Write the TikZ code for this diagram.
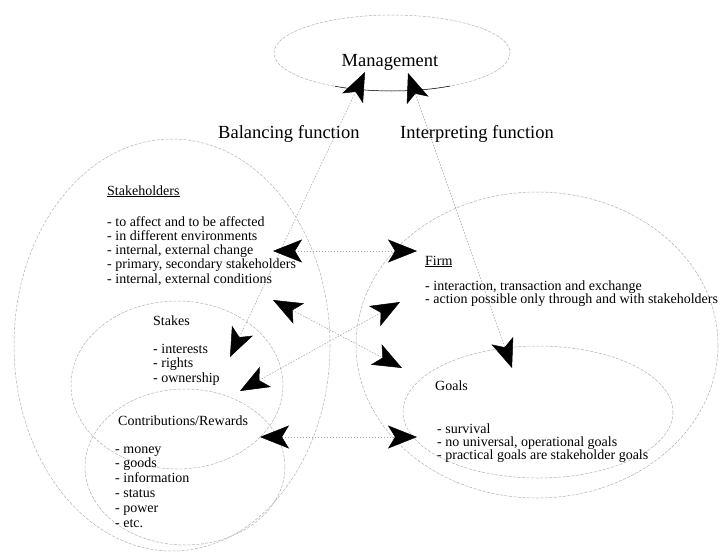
\documentclass[tikz,border=0pt]{standalone}
\usepackage{fontspec}
\setmainfont{Liberation Serif}
\usetikzlibrary{arrows.meta}
\begin{document}
\begin{tikzpicture}[x=1pt,y=-1pt,
  ring/.style={draw=gray!60, line width=0.5pt, dash pattern=on 3pt off 1.5pt},
  link/.style={draw=gray!75, line width=0.5pt, dash pattern=on 1.5pt off 1.5pt,
     {Stealth[black,length=29pt,width=23pt,inset=7pt]}-{Stealth[black,length=29pt,width=23pt,inset=7pt]}},
  big/.style={font=\fontsize{18.5}{20}\selectfont, inner sep=0pt},
  body/.style={font=\fontsize{14}{14.3}\selectfont, inner sep=0pt, anchor=base west, align=left},
]
\path[use as bounding box, fill=white] (0,0) rectangle (727,554);

% ---- circles of the model ----
\draw[ring] (392,53) ellipse [x radius=118, y radius=38];
\begin{scope}
  \clip (335,75) rectangle (450,100);
  \draw[black, line width=0.5pt] (392,53) ellipse [x radius=118, y radius=38];
\end{scope}
\draw[ring] (172,345) ellipse [x radius=158, y radius=206];
\draw[ring] (177,385) ellipse [x radius=106, y radius=84];
\draw[ring] (185,467) ellipse [x radius=100, y radius=78];
\draw[ring] (537,345) ellipse [x radius=181, y radius=153];
\draw[ring] (538,412) ellipse [x radius=135, y radius=66];

% ---- texts (list nodes are placed by the baseline of their last line) ----
\node[big, anchor=base] (mgmt) at (390,66.5) {Management};
\node[big, anchor=base west] (bal) at (218,138) {Balancing function};
\node[big, anchor=base west] (interp) at (400,138) {Interpreting function};

\node[body] (sh) at (107,195) {\underline{Stakeholders}};
\node[body] (shl) at (107,283.2) {- to affect and to be affected\\
- in different environments\\
- internal, external change\\
- primary, secondary stakeholders\\
- internal, external conditions};

\node[body] (st) at (153,325) {Stakes};
\node[body, font=\fontsize{14}{14.5}\selectfont] (stl) at (153,382) {- interests\\
- rights\\
- ownership};

\node[body] (cr) at (118,425) {Contributions/Rewards};
\node[body, font=\fontsize{14}{14.8}\selectfont] (crl) at (115,527) {- money\\
- goods\\
- information\\
- status\\
- power\\
- etc.};

\node[body] (fi) at (425,265) {\underline{Firm}};
\node[body, font=\fontsize{14}{13}\selectfont] (fil) at (425,303) {- interaction, transaction and exchange\\
- action possible only through and with stakeholders};

\node[body] (go) at (435,390) {Goals};
\node[body, font=\fontsize{14}{13}\selectfont] (gol) at (437,459) {- survival\\
- no universal, operational goals\\
- practical goals are stakeholder goals};

% ---- arrow ends ----
\coordinate (mgL) at (365,72);
\coordinate (mgR) at (408,73);
\coordinate (stA) at (230,357);
\coordinate (goA) at (512,368);
\coordinate (shA) at (273,251);
\coordinate (fiA) at (417,251);
\coordinate (crA) at (260,437);
\coordinate (goB) at (417,437);
\coordinate (shB) at (273,300);
\coordinate (goC) at (402,368);
\coordinate (fiB) at (400,302);
\coordinate (stB) at (240,391);

% ---- connectors ----
\draw[link] (mgL) -- (stA);
\draw[link] (mgR) -- (goA);
\draw[link] (shA) -- (fiA);
\draw[link] (crA) -- (goB);
\draw[link] (shB) -- (goC);
\draw[link] (fiB) -- (stB);
\end{tikzpicture}
\end{document}
